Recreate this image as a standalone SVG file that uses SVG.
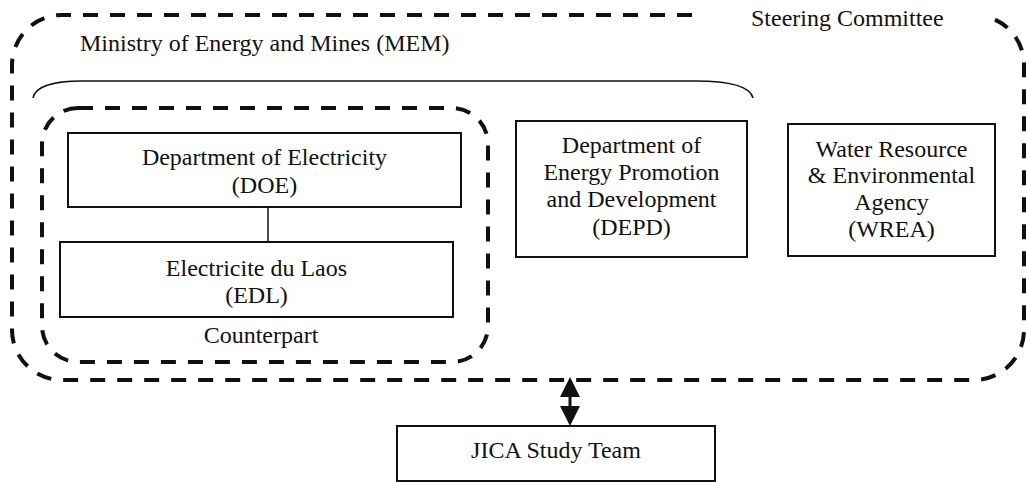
<svg xmlns="http://www.w3.org/2000/svg" width="1026" height="482" viewBox="0 0 1026 482">
<style>
text{font-family:'Liberation Serif','DejaVu Serif',serif;font-size:24px;fill:#111}
.c{text-anchor:middle}
.box{fill:#fff;stroke:#111;stroke-width:2}
.dash{fill:none;stroke:#111;stroke-width:4;stroke-dasharray:15 12}
.ln{stroke:#111;fill:none}
</style>
<defs>
<marker id="ah" markerUnits="userSpaceOnUse" markerWidth="20" markerHeight="20" refX="0" refY="10" orient="auto-start-reverse" viewBox="0 0 20 20">
<path d="M0,0 L20,10 L0,20 z" fill="#111"/>
</marker>
</defs>
<rect width="1026" height="482" fill="#fff"/>
<g id="steering-committee">
<path class="dash" d="M692,15 H62 A50,50 0 0 0 12,65 V330 A50,50 0 0 0 62,380 H974 A50,50 0 0 0 1024,330 V65 A50,50 0 0 0 990,17.6"/>
<text x="751" y="26">Steering Committee</text>
</g>
<g id="mem">
<text x="80" y="51">Ministry of Energy and Mines (MEM)</text>
<path class="ln" stroke-width="1.5" d="M33,98 C35,86 55,81 82,81 H695 C725,81 750,85 753,98"/>
</g>
<g id="counterpart">
<rect class="dash" x="42" y="108" width="446" height="254" rx="36" ry="36"/>
<text class="c" x="261" y="343">Counterpart</text>
</g>
<g id="doe">
<rect class="box" x="68" y="133" width="393" height="74"/>
<text class="c" x="264.5" y="165">Department of Electricity</text>
<text class="c" x="264.5" y="193">(DOE)</text>
</g>
<g id="edl">
<rect class="box" x="60" y="242" width="393" height="75"/>
<text class="c" x="256.5" y="276">Electricite du Laos</text>
<text class="c" x="256.5" y="303">(EDL)</text>
</g>
<g id="depd">
<rect class="box" x="516" y="121" width="231" height="136"/>
<text class="c" x="631.5" y="153">Department of</text>
<text class="c" x="631.5" y="180">Energy Promotion</text>
<text class="c" x="631.5" y="207">and Development</text>
<text class="c" x="631.5" y="235">(DEPD)</text>
</g>
<g id="wrea">
<rect class="box" x="788" y="124" width="207" height="132"/>
<text class="c" x="891.5" y="157">Water Resource</text>
<text class="c" x="891.5" y="183">&amp; Environmental</text>
<text class="c" x="891.5" y="210">Agency</text>
<text class="c" x="891.5" y="237">(WREA)</text>
</g>
<g id="jica">
<rect class="box" x="397" y="426" width="318" height="55"/>
<text class="c" x="556" y="458">JICA Study Team</text>
</g>
<g id="connectors">
<line class="ln" stroke-width="1.5" x1="268" y1="207" x2="268" y2="242"/>
<line class="ln" stroke-width="3" x1="570" y1="397" x2="570" y2="406" marker-start="url(#ah)" marker-end="url(#ah)"/>
</g>
</svg>
